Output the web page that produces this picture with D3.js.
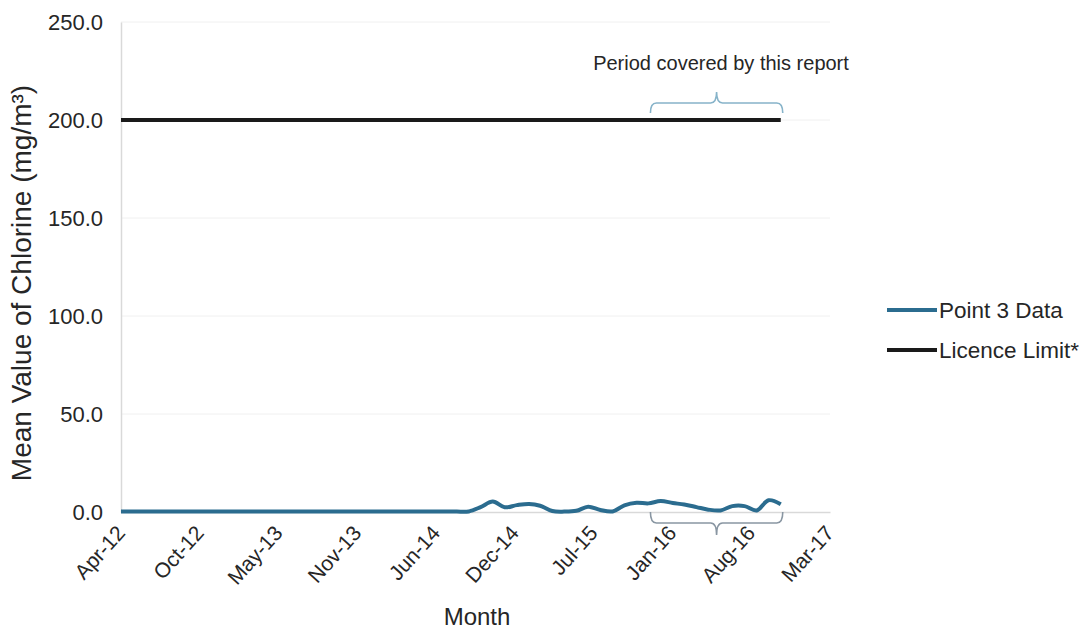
<!DOCTYPE html>
<html lang="en">
<head>
    <meta charset="UTF-8">
    <title>Mean Value of Chlorine</title>
    <script src="https://d3js.org/d3.v7.min.js"></script>
    <style>
        body { margin: 0; background: #fff; }
        text { font-family: 'Liberation Sans', Arial, sans-serif; fill: #262626; }
    </style>
</head>
<body>
<script>
    // monthly readings, Apr-12 .. Nov-16
    const months = [
        "2012-04","2012-05","2012-06","2012-07","2012-08","2012-09","2012-10","2012-11","2012-12",
        "2013-01","2013-02","2013-03","2013-04","2013-05","2013-06","2013-07","2013-08","2013-09","2013-10","2013-11","2013-12",
        "2014-01","2014-02","2014-03","2014-04","2014-05","2014-06","2014-07","2014-08","2014-09","2014-10","2014-11","2014-12",
        "2015-01","2015-02","2015-03","2015-04","2015-05","2015-06","2015-07","2015-08","2015-09","2015-10","2015-11","2015-12",
        "2016-01","2016-02","2016-03","2016-04","2016-05","2016-06","2016-07","2016-08","2016-09","2016-10","2016-11"
    ];
    const point3 = [
        0.2,0.2,0.2,0.2,0.2,0.2,0.2,0.2,0.2,
        0.2,0.2,0.2,0.2,0.2,0.2,0.2,0.2,0.2,0.2,0.2,0.2,
        0.2,0.2,0.2,0.2,0.2,0.2,0.2,0.2,0.3,2.5,5.3,2.4,
        3.5,4.1,3.2,0.5,0.2,0.6,2.7,1.0,0.3,3.4,4.7,4.4,
        5.6,4.6,3.8,2.5,1.2,0.8,3.0,3.0,0.8,6.0,4.0
    ];
    const licenceLimit = months.map(() => 200);

    const xTicks = ["2012-04-01","2012-10-18","2013-05-06","2013-11-22","2014-06-10",
                    "2014-12-27","2015-07-15","2016-01-31","2016-08-18","2017-03-06"];
    const yTicks = [0, 50, 100, 150, 200, 250];
    const reportPeriod = ["2015-12", "2016-11"];

    const seriesNames = ["Point 3 Data", "Licence Limit*"];
    const seriesColors = ["#2b6c8f", "#1a1a1a"];

    const W = 1084, H = 629;
    const margin = {top: 22, left: 121, right: 254, bottom: 117};
    const parseDay = d3.utcParse("%Y-%m-%d");
    const parseMonth = d3.utcParse("%Y-%m");

    const svg = d3.select("body").append("svg")
        .attr("width", W)
        .attr("height", H);

    const x = d3.scaleUtc()
        .domain([parseDay(xTicks[0]), parseDay(xTicks[xTicks.length - 1])])
        .range([margin.left, W - margin.right]);

    const y = d3.scaleLinear()
        .domain([0, 250])
        .range([H - margin.bottom, margin.top]);

    // grid lines
    svg.append("g")
        .selectAll("line")
        .data(yTicks.slice(1))
        .enter().append("line")
        .attr("x1", margin.left)
        .attr("x2", W - margin.right)
        .attr("y1", d => y(d))
        .attr("y2", d => y(d))
        .attr("stroke", "#f0f0f0")
        .attr("stroke-width", 1);

    // y axis
    const yAxis = svg.append("g")
        .attr("transform", `translate(${margin.left},0)`)
        .call(d3.axisLeft(y).tickValues(yTicks).tickFormat(d3.format(".1f")).tickSize(0).tickPadding(18));
    yAxis.select(".domain").attr("stroke", "#d9d9d9").attr("stroke-width", 1.5);
    yAxis.selectAll("text")
        .style("font-size", "22px")
        .attr("fill", "#262626");

    // x axis
    const xAxis = svg.append("g")
        .attr("transform", `translate(0,${y(0)})`)
        .call(d3.axisBottom(x)
            .tickValues(xTicks.map(parseDay))
            .tickFormat(d3.utcFormat("%b-%y"))
            .tickSize(0));
    xAxis.select(".domain").attr("stroke", "#d9d9d9").attr("stroke-width", 1.5);
    xAxis.selectAll("text")
        .style("font-size", "21px")
        .attr("fill", "#262626")
        .attr("text-anchor", "end")
        .attr("dy", "0.35em")
        .attr("transform", "translate(-3,15) rotate(-48)");

    // axis titles
    svg.append("text")
        .attr("text-anchor", "middle")
        .attr("x", 477)
        .attr("y", 625)
        .style("font-size", "24px")
        .text("Month");

    svg.append("text")
        .attr("text-anchor", "middle")
        .attr("transform", "translate(31,283) rotate(-90)")
        .style("font-size", "28px")
        .text("Mean Value of Chlorine (mg/m³)");

    // lines
    const line = d3.line()
        .x(d => x(parseMonth(d.month)))
        .y(d => y(d.value))
        .curve(d3.curveCatmullRom.alpha(0.5));

    [point3, licenceLimit].forEach((vals, i) => {
        svg.append("path")
            .datum(months.map((m, j) => ({month: m, value: vals[j]})))
            .attr("fill", "none")
            .attr("stroke", seriesColors[i])
            .attr("stroke-width", 4)
            .attr("stroke-linejoin", "round")
            .attr("d", line);
    });

    // legend
    const legend = svg.append("g");
    seriesNames.forEach((name, i) => {
        const ly = 310 + i * 40;
        legend.append("line")
            .attr("x1", 887).attr("x2", 937)
            .attr("y1", ly).attr("y2", ly)
            .attr("stroke", seriesColors[i])
            .attr("stroke-width", 4);
        legend.append("text")
            .attr("x", 939)
            .attr("y", ly)
            .attr("dy", "0.35em")
            .style("font-size", "22.5px")
            .text(name);
    });

    // braces marking the report period
    function brace(x0, x1, yEdge, yFlat, yTip) {
        const xm = (x0 + x1) / 2, r = 6;
        const p = d3.path();
        p.moveTo(x0, yEdge);
        p.quadraticCurveTo(x0, yFlat, x0 + r, yFlat);
        p.lineTo(xm - r, yFlat);
        p.quadraticCurveTo(xm, yFlat, xm, yTip);
        p.quadraticCurveTo(xm, yFlat, xm + r, yFlat);
        p.lineTo(x1 - r, yFlat);
        p.quadraticCurveTo(x1, yFlat, x1, yEdge);
        return p.toString();
    }
    const bx0 = x(parseMonth(reportPeriod[0])) + 2;
    const bx1 = x(parseMonth(reportPeriod[1])) + 2;

    svg.append("path")
        .attr("d", brace(bx0, bx1, 113, 103, 92))
        .attr("fill", "none")
        .attr("stroke", "#86b3c9")
        .attr("stroke-width", 1.6);

    svg.append("path")
        .attr("d", brace(bx0, bx1, 512, 523, 535))
        .attr("fill", "none")
        .attr("stroke", "#8996a2")
        .attr("stroke-width", 1.6);

    svg.append("text")
        .attr("x", 721)
        .attr("y", 70)
        .attr("text-anchor", "middle")
        .style("font-size", "20px")
        .text("Period covered by this report");
</script>
</body>
</html>
